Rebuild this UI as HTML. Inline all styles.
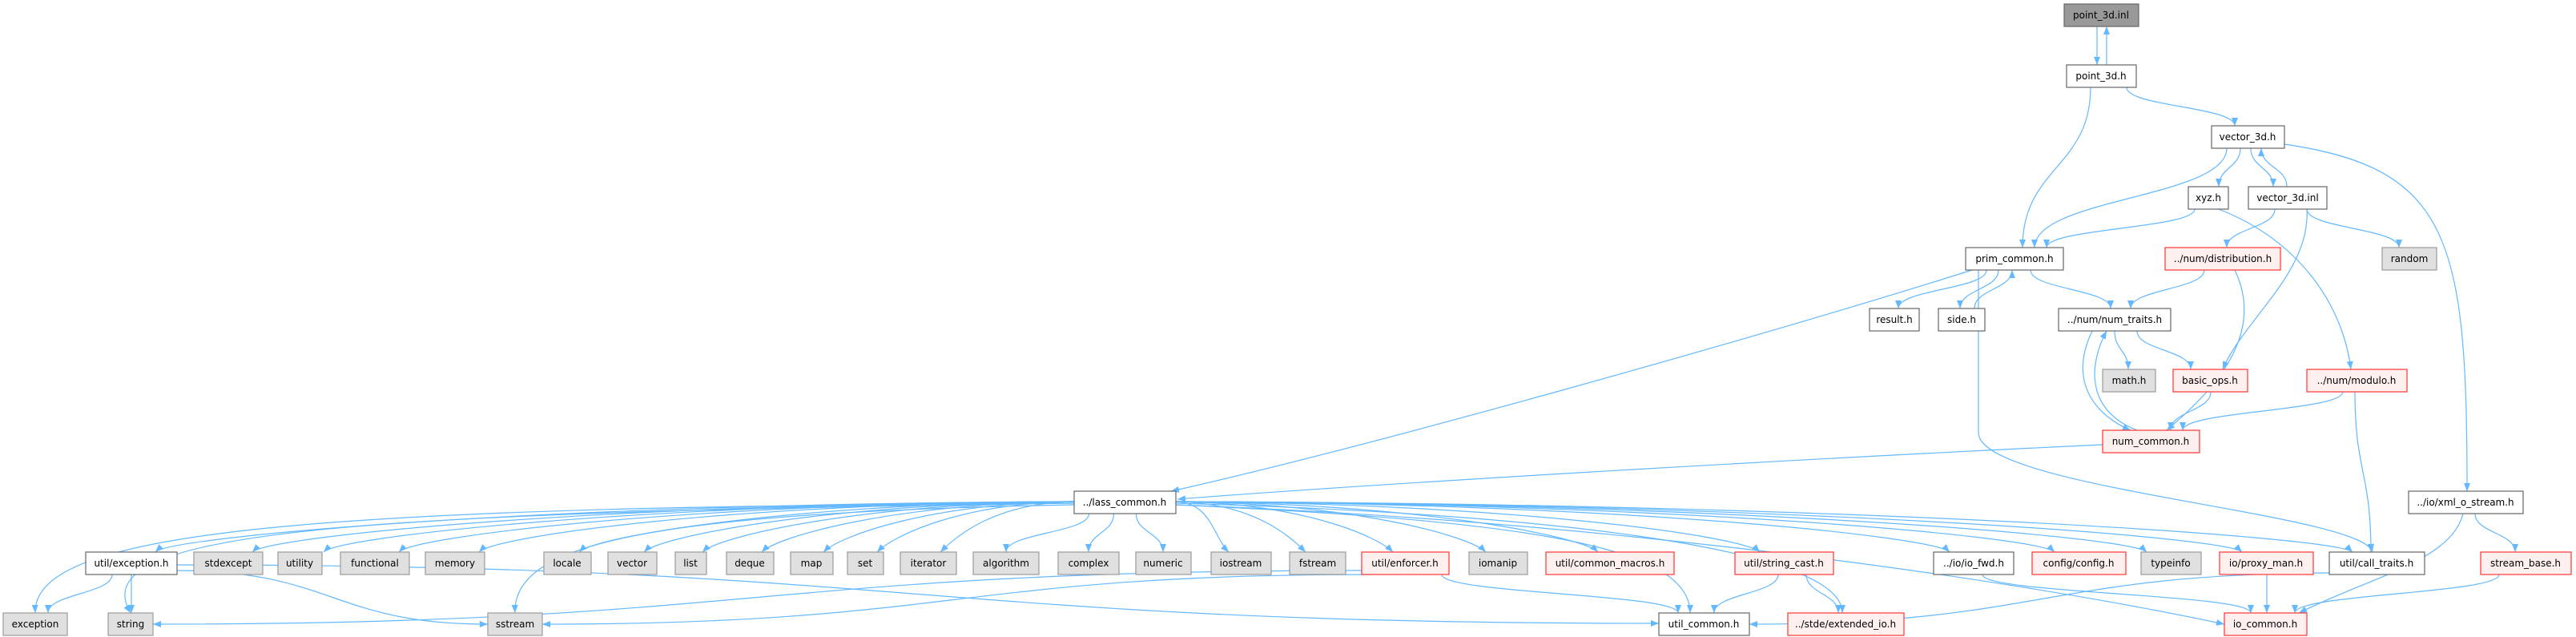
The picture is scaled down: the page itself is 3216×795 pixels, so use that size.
<!DOCTYPE html>
<html><head><meta charset="utf-8"><style>
html,body{margin:0;padding:0;background:#fff;}
svg{display:block;}
text{font-family:"DejaVu Sans","Liberation Sans",sans-serif;font-size:12px;fill:#000;text-anchor:middle;}
.n rect{fill:#fff;stroke:#666;stroke-width:1.2;}
.g rect{fill:#e0e0e0;stroke:#999;stroke-width:1.2;}
.r rect{fill:#fff0f0;stroke:#f33;stroke-width:1.2;}
.d rect{fill:#999;stroke:#666;stroke-width:1.2;}
#E path{fill:none;stroke:#63b8ff;stroke-width:1.2;}
</style></head><body>
<svg id="S" width="3216" height="795" viewBox="0 0 3216 795" xmlns="http://www.w3.org/2000/svg">
<defs><marker id="a" viewBox="0 0 10 8" refX="10" refY="4" markerWidth="10" markerHeight="8" markerUnits="userSpaceOnUse" orient="auto"><path d="M0,0 L10,4 L0,8 z" fill="#63b8ff"/></marker></defs>
<g id="E"></g>
<g id="N">
<g class="d"><rect x="2577" y="5" width="93" height="28"/><text x="2623" y="23">point_3d.inl</text></g>
<g class="n"><rect x="2580" y="81" width="87" height="28"/><text x="2623" y="99">point_3d.h</text></g>
<g class="n"><rect x="2761" y="157" width="91" height="28"/><text x="2806" y="175">vector_3d.h</text></g>
<g class="n"><rect x="2732" y="233" width="50" height="28"/><text x="2757" y="251">xyz.h</text></g>
<g class="n"><rect x="2807" y="233" width="98" height="28"/><text x="2856" y="251">vector_3d.inl</text></g>
<g class="n"><rect x="2454" y="309" width="122" height="28"/><text x="2515" y="327">prim_common.h</text></g>
<g class="r"><rect x="2703" y="309" width="144" height="28"/><text x="2775" y="327">../num/distribution.h</text></g>
<g class="g"><rect x="2974" y="309" width="68" height="28"/><text x="3008" y="327">random</text></g>
<g class="n"><rect x="2334" y="385" width="62" height="28"/><text x="2365" y="403">result.h</text></g>
<g class="n"><rect x="2420" y="385" width="58" height="28"/><text x="2449" y="403">side.h</text></g>
<g class="n"><rect x="2570" y="385" width="140" height="28"/><text x="2640" y="403">../num/num_traits.h</text></g>
<g class="g"><rect x="2625" y="461" width="66" height="28"/><text x="2658" y="479">math.h</text></g>
<g class="r"><rect x="2713" y="461" width="93" height="28"/><text x="2759" y="479">basic_ops.h</text></g>
<g class="r"><rect x="2880" y="461" width="125" height="28"/><text x="2942" y="479">../num/modulo.h</text></g>
<g class="r"><rect x="2625" y="537" width="121" height="28"/><text x="2685" y="555">num_common.h</text></g>
<g class="n"><rect x="1341" y="613" width="127" height="28"/><text x="1404" y="631">../lass_common.h</text></g>
<g class="n"><rect x="3007" y="613" width="143" height="28"/><text x="3078" y="631">../io/xml_o_stream.h</text></g>
<g class="n"><rect x="107" y="689" width="114" height="28"/><text x="164" y="707">util/exception.h</text></g>
<g class="g"><rect x="242" y="689" width="86" height="28"/><text x="285" y="707">stdexcept</text></g>
<g class="g"><rect x="347" y="689" width="55" height="28"/><text x="374" y="707">utility</text></g>
<g class="g"><rect x="425" y="689" width="86" height="28"/><text x="468" y="707">functional</text></g>
<g class="g"><rect x="531" y="689" width="74" height="28"/><text x="568" y="707">memory</text></g>
<g class="g"><rect x="679" y="689" width="59" height="28"/><text x="708" y="707">locale</text></g>
<g class="g"><rect x="759" y="689" width="61" height="28"/><text x="789" y="707">vector</text></g>
<g class="g"><rect x="843" y="689" width="39" height="28"/><text x="862" y="707">list</text></g>
<g class="g"><rect x="907" y="689" width="59" height="28"/><text x="936" y="707">deque</text></g>
<g class="g"><rect x="987" y="689" width="53" height="28"/><text x="1013" y="707">map</text></g>
<g class="g"><rect x="1058" y="689" width="45" height="28"/><text x="1080" y="707">set</text></g>
<g class="g"><rect x="1124" y="689" width="70" height="28"/><text x="1159" y="707">iterator</text></g>
<g class="g"><rect x="1215" y="689" width="82" height="28"/><text x="1256" y="707">algorithm</text></g>
<g class="g"><rect x="1321" y="689" width="76" height="28"/><text x="1359" y="707">complex</text></g>
<g class="g"><rect x="1418" y="689" width="69" height="28"/><text x="1452" y="707">numeric</text></g>
<g class="g"><rect x="1512" y="689" width="75" height="28"/><text x="1549" y="707">iostream</text></g>
<g class="g"><rect x="1610" y="689" width="70" height="28"/><text x="1645" y="707">fstream</text></g>
<g class="r"><rect x="1700" y="689" width="109" height="28"/><text x="1754" y="707">util/enforcer.h</text></g>
<g class="g"><rect x="1834" y="689" width="73" height="28"/><text x="1870" y="707">iomanip</text></g>
<g class="r"><rect x="1930" y="689" width="160" height="28"/><text x="2010" y="707">util/common_macros.h</text></g>
<g class="r"><rect x="2166" y="689" width="123" height="28"/><text x="2227" y="707">util/string_cast.h</text></g>
<g class="n"><rect x="2414" y="689" width="100" height="28"/><text x="2464" y="707">../io/io_fwd.h</text></g>
<g class="r"><rect x="2537" y="689" width="117" height="28"/><text x="2595" y="707">config/config.h</text></g>
<g class="g"><rect x="2673" y="689" width="75" height="28"/><text x="2710" y="707">typeinfo</text></g>
<g class="r"><rect x="2771" y="689" width="117" height="28"/><text x="2829" y="707">io/proxy_man.h</text></g>
<g class="n"><rect x="2908" y="689" width="119" height="28"/><text x="2967" y="707">util/call_traits.h</text></g>
<g class="r"><rect x="3097" y="689" width="113" height="28"/><text x="3153" y="707">stream_base.h</text></g>
<g class="g"><rect x="4" y="765" width="80" height="28"/><text x="44" y="783">exception</text></g>
<g class="g"><rect x="135" y="765" width="56" height="28"/><text x="163" y="783">string</text></g>
<g class="g"><rect x="609" y="765" width="68" height="28"/><text x="643" y="783">sstream</text></g>
<g class="n"><rect x="2071" y="765" width="113" height="28"/><text x="2127" y="783">util_common.h</text></g>
<g class="r"><rect x="2232" y="765" width="145" height="28"/><text x="2304" y="783">../stde/extended_io.h</text></g>
<g class="r"><rect x="2777" y="765" width="103" height="28"/><text x="2828" y="783">io_common.h</text></g>
</g>
</svg>
<script>
(function(){
var g=document.getElementById('E'),s='';
function V(x1,y1,x2,y2){var d=(y2-y1)/2;return 'M'+x1+','+y1+' C'+x1+','+(y1+d)+' '+x2+','+(y2-d)+' '+x2+','+y2;}
function H(x1,y1,x2,y2){var d=(x2-x1)/2;return 'M'+x1+','+y1+' C'+(x1+d)+','+y1+' '+(x2-d)+','+y2+' '+x2+','+y2;}
function add(d){s+='<path d="'+d+'" marker-end="url(#a)"/>';}
var L=[[2618,33,2618,81],[2630,81,2630,33],[2655,109,2790,157],[2610,109,2525,309],[2780,185,2540,309],[2797,185,2770,233],[2810,185,2838,233],[2855,233,2823,185],
[2740,261,2555,309],[2840,261,2780,309],[2880,261,2995,309],
[2480,337,2370,385],[2495,337,2447,385],[2465,385,2512,337],[2535,337,2635,385],[2752,337,2660,385],
[2640,413,2657,461],[2668,413,2735,461],[2760,489,2710,537],[2925,489,2725,537],[2940,489,2960,689],
[3090,641,3140,689],[3120,717,2865,765],[2220,717,2140,765],[2255,717,2295,765],[2475,717,2810,765],[2830,717,2830,765],
[140,717,60,765],[164,717,164,765],[1800,717,2095,765]];
L.forEach(function(e){add(V(e[0],e[1],e[2],e[3]));});
add('M2770,261 C2870,300 2925,380 2935,461');
add('M2880,261 C2885,340 2800,400 2775,461');
add('M2790,337 C2830,420 2760,490 2705,537');
add('M2612,413 C2580,480 2620,520 2660,537');
add('M2668,537 C2600,510 2610,450 2630,413');
add('M3075,641 C3060,700 2960,720 2870,765');
add('M2470,337 L2470,540 C2470,610 2950,640 2962,689');
add('M2462,337 C2200,420 1700,560 1462,613');
add('M2852,180 C3060,210 3080,300 3080,613');
add('M2625,555 C2200,575 1700,605 1470,623');
add(H(221,712,609,779));add(H(221,705,2071,778));add(H(1700,712,191,779));add(H(1712,717,677,779));add(H(2920,715,2184,779));
var T=[[164,689],[285,689],[374,689],[468,689],[568,689],[708,689],[789,689],[862,689],[936,689],[1013,689],[1080,689],[1159,689],[1256,689],[1359,689],[1452,689],[1549,689],[1645,689],[1754,689],[1870,689],[2010,689],[2227,689],[2464,689],[2595,689],[2710,689],[2829,689],[2967,689]];
T.forEach(function(t){var tx=t[0];
 if(tx<1250){var o=(tx<600)?30:15;add('M1341,626 C'+(tx+(1341-tx)*0.45)+',628 '+(tx+o+20)+','+(t[1]-20)+' '+(tx+o)+','+t[1]);}
 else if(tx>1520){var o=(tx>2200)?-30:-15;add('M1468,626 C'+(1468+(tx-1468)*0.55)+',628 '+(tx+o-20)+','+(t[1]-20)+' '+(tx+o)+','+t[1]);}
 else add(V(1404+(tx-1404)*0.3,641,tx,689));});
add('M1341,628 C400,632 40,660 44,765');
add('M1341,628 C450,640 100,660 163,765');
add('M1341,630 C800,640 640,680 643,765');
add('M1468,630 C1900,650 2110,680 2110,765');
add('M1468,628 C1900,640 2300,680 2300,765');
add('M1468,630 C2000,650 2500,720 2777,779');
g.innerHTML=s;})();
</script>
</body></html>
